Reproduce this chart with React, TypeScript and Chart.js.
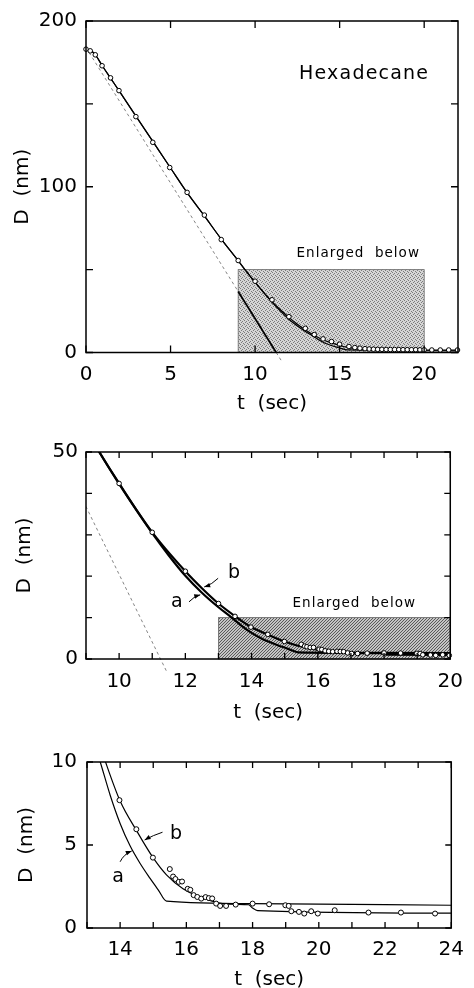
import React, { useEffect, useRef } from "react";
import { Chart, registerables } from "chart.js";

Chart.register(...registerables);
Chart.defaults.font.family = '"DejaVu Sans", sans-serif';

// ---------- data ----------
// model curve b (upper) and curve a (lower): t (sec), D (nm)
const curveBT = [0, 0.25, 0.5, 1, 1.5, 2, 3, 4, 5, 6, 7, 8, 9, 9.4, 10, 11, 12, 12.5, 13, 13.56, 14, 14.5, 15, 15.4, 15.9, 16.4, 17, 17.5, 17.88, 18.0, 18.15, 24];
const curveBD = [183, 182.2, 180.3, 172.4, 164.8, 157.2, 141.9, 126.6, 111.3, 96.1, 82.4, 68.4, 55.4, 50, 42.4, 30.6, 21.2, 17.1, 13.4, 10, 7.65, 5.85, 4.22, 3.2, 2.36, 1.88, 1.5, 1.43, 1.4, 1.2, 1.05, 0.9];
const curveAT = [0, 0.25, 0.5, 1, 1.5, 2, 3, 4, 5, 6, 7, 8, 9, 9.4, 10, 11, 11.5, 12, 12.5, 13, 13.4, 13.7, 14.0, 14.3, 14.6, 14.9, 15.15, 15.4, 18, 24];
const curveAD = [183, 182.2, 180.3, 172.4, 164.8, 157.2, 141.9, 126.6, 111.3, 96.1, 82.4, 68.4, 55.4, 50, 42.3, 30.4, 25.0, 20.1, 16.0, 12.5, 10, 8.0, 6.3, 4.95, 3.9, 3.0, 2.3, 1.62, 1.47, 1.37];
// initial-slope tangent line
const tangentT = [0, 9, 11.25, 11.6];
const tangentD = [184, 36.8, 0, -5.7];
// measured points, overview (top panel)
const overviewT = [0, 0.25, 0.55, 0.95, 1.45, 1.95, 2.95, 3.95, 4.95, 5.98, 7.0, 8.0, 9.0, 10.0, 11.0, 12.0, 12.97, 13.5, 14.02, 14.52, 15.0, 15.55, 15.9, 16.2, 16.5, 16.75, 17.0, 17.25, 17.5, 17.75, 18.0, 18.25, 18.5, 18.75, 19.0, 19.25, 19.5, 19.75, 20.0, 20.45, 20.95, 21.45, 21.97];
const overviewD = [183, 182, 179.6, 173, 165.7, 158, 142.3, 126.8, 111.6, 96.6, 82.9, 68.1, 55.5, 43, 31.8, 21.6, 14.6, 10.8, 8.2, 6.6, 5.0, 3.6, 3.0, 2.6, 2.3, 2.1, 2.0, 1.9, 1.9, 1.8, 1.8, 1.8, 1.8, 1.7, 1.7, 1.7, 1.7, 1.6, 1.6, 1.5, 1.5, 1.5, 1.5];
// measured points, detail (middle and bottom panels)
const detailT = [10.0, 11.0, 12.0, 13.0, 13.5, 13.98, 14.49, 14.99, 15.5, 15.6, 15.67, 15.77, 15.87, 16.04, 16.12, 16.22, 16.33, 16.45, 16.58, 16.68, 16.78, 16.9, 17.02, 17.2, 17.49, 18.0, 18.5, 18.99, 19.09, 19.17, 19.4, 19.56, 19.77, 19.97, 20.48, 21.5, 22.48, 23.51];
const detailD = [42.4, 30.6, 21.2, 13.4, 10.3, 7.7, 5.95, 4.24, 3.55, 3.1, 2.95, 2.78, 2.8, 2.36, 2.3, 1.98, 1.87, 1.77, 1.86, 1.8, 1.78, 1.47, 1.33, 1.33, 1.41, 1.47, 1.43, 1.37, 1.33, 1.01, 0.97, 0.87, 1.01, 0.87, 1.07, 0.93, 0.93, 0.87];

// axes: ranges, steps, labelled ticks
const p1X = [0, 22]; const p1Y = [0, 200]; const p1XStep = 5; const p1YStep = 50;
const p1XLabels = [0, 5, 10, 15, 20]; const p1YLabels = [0, 100, 200];
const p2X = [9, 20]; const p2Y = [0, 50]; const p2XStep = 1; const p2YStep = 10;
const p2XLabels = [10, 12, 14, 16, 18, 20]; const p2YLabels = [0, 50];
const p3X = [13, 24]; const p3Y = [0, 10]; const p3XStep = 1; const p3YStep = 5;
const p3XLabels = [14, 16, 18, 20, 22, 24]; const p3YLabels = [0, 5, 10];

// shaded "enlarged" regions (t range, D range)
const p1BoxT = [9, 20]; const p1BoxD = [0, 50];
const p2BoxT = [13, 20]; const p2BoxD = [0, 10];

const FONT = '"DejaVu Sans", sans-serif';

// ---------- helpers ----------
const xy = (ts: number[], ds: number[]) => ts.map((t, i) => ({ x: t, y: ds[i] }));

function makePattern(ctx: CanvasRenderingContext2D, kind: string) {
  const c = document.createElement("canvas");
  if (kind === "stipple") {
    c.width = 4; c.height = 4;
    const g = c.getContext("2d")!;
    g.fillStyle = "#d6d6d6"; g.fillRect(0, 0, 4, 4);
    g.fillStyle = "#7c7c7c";
    [[0, 0], [2, 1], [1, 2], [3, 3]].forEach(([a, b]) => g.fillRect(a, b, 1, 1));
  } else {
    c.width = 3; c.height = 3;
    const g = c.getContext("2d")!;
    g.fillStyle = "#c4c4c4"; g.fillRect(0, 0, 3, 3);
    g.fillStyle = "#5a5a5a";
    for (let i = 0; i < 3; i++) g.fillRect(i, 2 - i, 1, 1);
  }
  return ctx.createPattern(c, "repeat")!;
}

function drawArrow(ctx: CanvasRenderingContext2D, x0: number, y0: number, x1: number, y1: number, bend: number) {
  const mx = (x0 + x1) / 2, my = (y0 + y1) / 2;
  const dx = x1 - x0, dy = y1 - y0;
  const len = Math.hypot(dx, dy) || 1;
  const cx = mx - (dy / len) * bend, cy = my + (dx / len) * bend;
  ctx.beginPath();
  ctx.moveTo(x0, y0);
  ctx.quadraticCurveTo(cx, cy, x1, y1);
  ctx.stroke();
  const ang = Math.atan2(y1 - cy, x1 - cx);
  const ah = 6, aw = 2.3;
  const bx = x1 - ah * Math.cos(ang), by = y1 - ah * Math.sin(ang);
  ctx.beginPath();
  ctx.moveTo(x1, y1);
  ctx.lineTo(bx + aw * Math.sin(ang), by - aw * Math.cos(ang));
  ctx.lineTo(bx - aw * Math.sin(ang), by + aw * Math.cos(ang));
  ctx.closePath();
  ctx.fill();
}

const decorPlugin = {
  id: "panelDecor",
  beforeDatasetsDraw(chart: any, _a: any, opts: any) {
    if (!opts || !opts.boxT) return;
    const { ctx, scales: { x, y } } = chart;
    const x0 = x.getPixelForValue(opts.boxT[0]), x1 = x.getPixelForValue(opts.boxT[1]);
    const y0 = y.getPixelForValue(opts.boxD[1]), y1 = y.getPixelForValue(opts.boxD[0]);
    ctx.save();
    ctx.fillStyle = makePattern(ctx, opts.boxKind);
    ctx.fillRect(x0, y0, x1 - x0, y1 - y0);
    ctx.strokeStyle = "#666";
    ctx.lineWidth = 0.8;
    ctx.strokeRect(x0, y0, x1 - x0, y1 - y0);
    ctx.restore();
  },
  afterDatasetsDraw(chart: any, _a: any, opts: any) {
    const { ctx, chartArea: ca, scales: { x, y } } = chart;
    ctx.save();
    ctx.strokeStyle = "#000";
    ctx.fillStyle = "#000";
    // inward ticks
    ctx.lineWidth = 1.3;
    const tl = opts.tickLen;
    ctx.beginPath();
    x.ticks.forEach((t: any) => {
      const px = x.getPixelForValue(t.value);
      ctx.moveTo(px, ca.bottom); ctx.lineTo(px, ca.bottom - tl);
      ctx.moveTo(px, ca.top); ctx.lineTo(px, ca.top + tl);
    });
    y.ticks.forEach((t: any) => {
      const py = y.getPixelForValue(t.value);
      ctx.moveTo(ca.left, py); ctx.lineTo(ca.left + tl, py);
      ctx.moveTo(ca.right, py); ctx.lineTo(ca.right - tl, py);
    });
    ctx.stroke();
    // frame
    ctx.lineWidth = 1.5;
    ctx.strokeRect(ca.left, ca.top, ca.right - ca.left, ca.bottom - ca.top);
    // texts
    (opts.texts || []).forEach((tx: any) => {
      ctx.font = `${tx.size}px ${FONT}`;
      (ctx as any).letterSpacing = `${tx.spacing || 0}px`;
      ctx.textAlign = tx.align;
      ctx.textBaseline = "alphabetic";
      ctx.fillText(tx.text, x.getPixelForValue(tx.t), y.getPixelForValue(tx.d));
    });
    (ctx as any).letterSpacing = "0px";
    // arrows
    ctx.lineWidth = 1;
    (opts.arrows || []).forEach((ar: any) => {
      drawArrow(
        ctx,
        x.getPixelForValue(ar.from[0]), y.getPixelForValue(ar.from[1]),
        x.getPixelForValue(ar.to[0]), y.getPixelForValue(ar.to[1]),
        ar.bend
      );
    });
    ctx.restore();
  },
};

type PanelCfg = {
  top: number; h: number; padTop: number; padRight: number;
  yWidth: number; xHeight: number; xTickPad: number; yTickPad: number; yTitlePad: number;
  xr: number[]; yr: number[]; xStep: number; yStep: number; xLabels: number[]; yLabels: number[];
  datasets: any[]; decor: any;
};

function buildConfig(c: PanelCfg): any {
  const tickFont = { family: FONT, size: 20 };
  return {
    type: "scatter",
    data: { datasets: c.datasets },
    plugins: [decorPlugin],
    options: {
      animation: false,
      responsive: false,
      events: [],
      layout: { padding: { top: c.padTop, right: c.padRight, left: 0, bottom: 0 } },
      plugins: { legend: { display: false }, tooltip: { enabled: false }, panelDecor: c.decor },
      scales: {
        x: {
          type: "linear", min: c.xr[0], max: c.xr[1],
          grid: { display: false, drawTicks: false, tickLength: 0 },
          border: { display: false },
          ticks: {
            stepSize: c.xStep, includeBounds: false, autoSkip: false, maxRotation: 0, minRotation: 0,
            padding: c.xTickPad, font: tickFont, color: "#000",
            callback: (v: number) => (c.xLabels.includes(v) ? String(v) : ""),
          },
          title: { display: true, text: "t  (sec)", font: tickFont, color: "#000", padding: { top: 0, bottom: 0 } },
          afterFit: (s: any) => { s.height = c.xHeight; },
        },
        y: {
          type: "linear", min: c.yr[0], max: c.yr[1],
          grid: { display: false, drawTicks: false, tickLength: 0 },
          border: { display: false },
          ticks: {
            stepSize: c.yStep, includeBounds: false, autoSkip: false,
            padding: c.yTickPad, font: tickFont, color: "#000",
            callback: (v: number) => (c.yLabels.includes(v) ? String(v) : ""),
          },
          title: { display: true, text: "D  (nm)", font: tickFont, color: "#000", padding: { top: c.yTitlePad, bottom: 0 } },
          afterFit: (s: any) => { s.width = c.yWidth; },
        },
      },
    },
  };
}

const pointsDs = (ts: number[], ds: number[], r: number) => ({
  data: xy(ts, ds), showLine: false, pointRadius: r, pointBackgroundColor: "#fff",
  pointBorderColor: "#000", pointBorderWidth: 1, clip: { left: 3, right: 3, top: 0, bottom: 3 },
});
const curveDs = (ts: number[], ds: number[], w: number) => ({
  data: xy(ts, ds), showLine: true, pointRadius: 0, borderColor: "#000", borderWidth: w,
  cubicInterpolationMode: "monotone", fill: false,
});

const panels: PanelCfg[] = [
  {
    top: 0, h: 416, padTop: 18, padRight: 16, yWidth: 86, xHeight: 63.5, xTickPad: 10, yTickPad: 9, yTitlePad: 10.5,
    xr: p1X, yr: p1Y, xStep: p1XStep, yStep: p1YStep, xLabels: p1XLabels, yLabels: p1YLabels,
    datasets: [
      pointsDs(overviewT, overviewD, 2.3),
      curveDs(curveBT, curveBD, 1.2),
      curveDs(curveAT, curveAD, 1.2),
      {
        data: xy(tangentT, tangentD), showLine: true, pointRadius: 0, borderWidth: 0.8, borderColor: "#666",
        borderDash: [3, 3], clip: { left: 0, right: 0, top: 0, bottom: 10 },
        segment: {
          borderColor: (s: any) => (s.p0DataIndex === 1 ? "#000" : "#666"),
          borderDash: (s: any) => (s.p0DataIndex === 1 ? [] : [3, 3]),
          borderWidth: (s: any) => (s.p0DataIndex === 1 ? 1.7 : 0.8),
        },
      },
    ],
    decor: {
      tickLen: 7, boxT: p1BoxT, boxD: p1BoxD, boxKind: "stipple",
      texts: [
        { text: "Hexadecane", t: 12.6, d: 165, size: 19, align: "left", spacing: 1.2 },
        { text: "Enlarged  below", t: 16.1, d: 57.5, size: 13.5, align: "center", spacing: 1 },
      ],
      arrows: [],
    },
  },
  {
    top: 430, h: 295, padTop: 22, padRight: 14, yWidth: 86, xHeight: 66, xTickPad: 11, yTickPad: 8, yTitlePad: 12.5,
    xr: p2X, yr: p2Y, xStep: p2XStep, yStep: p2YStep, xLabels: p2XLabels, yLabels: p2YLabels,
    datasets: [
      pointsDs(detailT, detailD, 2.3),
      curveDs(curveBT, curveBD, 2.2),
      curveDs(curveAT, curveAD, 2.2),
      {
        data: xy(tangentT, tangentD), showLine: true, pointRadius: 0, borderWidth: 0.8, borderColor: "#666",
        borderDash: [3, 3], clip: { left: 0, right: 0, top: 0, bottom: 14 },
      },
    ],
    decor: {
      tickLen: 6, boxT: p2BoxT, boxD: p2BoxD, boxKind: "hatch",
      texts: [
        { text: "Enlarged  below", t: 17.1, d: 12.6, size: 13.5, align: "center", spacing: 1 },
        { text: "b", t: 13.29, d: 19.5, size: 19, align: "left", spacing: 0 },
        { text: "a", t: 11.57, d: 12.6, size: 19, align: "left", spacing: 0 },
      ],
      arrows: [
        { from: [12.99, 19.5], to: [12.57, 17.4], bend: -2 },
        { from: [12.11, 13.8], to: [12.45, 15.5], bend: -2 },
      ],
    },
  },
  {
    top: 740, h: 252, padTop: 20, padRight: 14, yWidth: 87, xHeight: 64, xTickPad: 10, yTickPad: 10, yTitlePad: 14.5,
    xr: p3X, yr: p3Y, xStep: p3XStep, yStep: p3YStep, xLabels: p3XLabels, yLabels: p3YLabels,
    datasets: [
      pointsDs(detailT, detailD, 2.5),
      curveDs(curveBT, curveBD, 1.2),
      curveDs(curveAT, curveAD, 1.2),
    ],
    decor: {
      tickLen: 6,
      texts: [
        { text: "b", t: 15.51, d: 5.34, size: 19, align: "left", spacing: 0 },
        { text: "a", t: 13.76, d: 2.8, size: 19, align: "left", spacing: 0 },
      ],
      arrows: [
        { from: [15.28, 5.77], to: [14.74, 5.3], bend: 1 },
        { from: [14.0, 3.99], to: [14.35, 4.64], bend: -3 },
      ],
    },
  },
];

function Panel({ cfg }: { cfg: PanelCfg }) {
  const ref = useRef<HTMLCanvasElement>(null);
  useEffect(() => {
    const chart = new Chart(ref.current!, buildConfig(cfg));
    return () => chart.destroy();
  }, [cfg]);
  return (
    <canvas
      ref={ref}
      width={474}
      height={cfg.h}
      style={{ position: "absolute", left: 0, top: cfg.top, width: 474, height: cfg.h }}
    />
  );
}

export default function App() {
  return (
    <div style={{ position: "absolute", left: 0, top: 0, width: 474, height: 988, overflow: "hidden", background: "#fff" }}>
      {panels.map((p, i) => (
        <Panel key={i} cfg={p} />
      ))}
    </div>
  );
}
